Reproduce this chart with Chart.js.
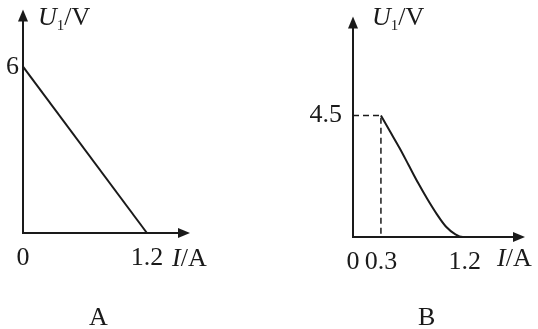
<!DOCTYPE html>
<html>
<head>
<meta charset="utf-8">
<script src="https://cdn.jsdelivr.net/npm/chart.js@4.4.0/dist/chart.umd.min.js"></script>
<style>
  body { margin: 0; background: #fff; }
  #wrap { position: relative; width: 538px; height: 329px; overflow: hidden; }
  canvas { position: absolute; left: 0; top: 0; }
  .lbl { position: absolute; font-family: "Liberation Serif", "Times New Roman", serif; font-size: 26px; color: #1a1a1a; line-height: 26px; white-space: nowrap; }
  .lbl sub { font-size: 15px; vertical-align: -5px; }
</style>
</head>
<body>
<div id="wrap">
  <canvas id="chartA" width="538" height="329"></canvas>
  <canvas id="chartB" width="538" height="329"></canvas>
  <div class="lbl" style="left:38px;top:4px"><i>U</i><sub>1</sub>/V</div>
  <div class="lbl" style="left:372px;top:4px"><i>U</i><sub>1</sub>/V</div>
  <div class="lbl" style="left:172px;top:245px"><i>I</i>/A</div>
  <div class="lbl" style="left:497px;top:245px"><i>I</i>/A</div>
  <div class="lbl" style="left:89px;top:304px">A</div>
  <div class="lbl" style="left:418px;top:304px">B</div>
</div>
<script>
// graph A: straight line
const lineA_I = [0, 1.2];
const lineA_U = [6, 0];
const ticksA_x = [0, 1.2];
const ticksA_y = [6];

// graph B: dashed guide + curve
const guideB_I = [0, 0.3, 0.3];
const guideB_U = [4.5, 4.5, 0];
const curveB_I = [0.3, 0.4, 0.5, 0.6, 0.7, 0.8, 0.9, 1.0, 1.1, 1.18, 1.24];
const curveB_U = [4.5, 3.9, 3.3, 2.65, 2.0, 1.4, 0.85, 0.38, 0.1, 0, 0];
const ticksB_x = [0, 0.3, 1.2];
const ticksB_y = [4.5];

const ink = "#1a1a1a";
const font = { family: "'Liberation Serif', 'Times New Roman', serif", size: 26 };

function pts(xs, ys) {
  return xs.map((x, i) => ({ x: x, y: ys[i] }));
}

// arrow heads at the ends of both axes
const arrows = {
  id: "arrows",
  afterDraw(chart) {
    const { left, right, top, bottom } = chart.chartArea;
    const ctx = chart.ctx;
    ctx.save();
    ctx.fillStyle = ink;
    ctx.beginPath();
    ctx.moveTo(left - 5, top + 2);
    ctx.lineTo(left + 5, top + 2);
    ctx.lineTo(left, top - 10);
    ctx.closePath();
    ctx.fill();
    ctx.beginPath();
    ctx.moveTo(right - 2, bottom - 5);
    ctx.lineTo(right - 2, bottom + 5);
    ctx.lineTo(right + 10, bottom);
    ctx.closePath();
    ctx.fill();
    ctx.restore();
  }
};

function makeChart(id, datasets, o) {
  return new Chart(document.getElementById(id), {
    type: "scatter",
    data: { datasets: datasets },
    options: {
      responsive: false,
      animation: false,
      events: [],
      layout: { padding: { top: o.top, right: o.right, left: 0, bottom: 0 } },
      plugins: { legend: { display: false }, tooltip: { enabled: false } },
      scales: {
        x: {
          type: "linear", min: 0, max: o.xMax,
          grid: { display: false, drawTicks: false },
          border: { display: true, color: ink, width: 2 },
          afterBuildTicks: s => { s.ticks = o.xTicks.map(v => ({ value: v })); },
          afterFit: s => { s.height = o.xHeight; },
          ticks: { color: ink, font: font, padding: 10, maxRotation: 0, autoSkip: false, callback: v => String(v) }
        },
        y: {
          type: "linear", min: 0, max: o.yMax,
          grid: { display: false, drawTicks: false },
          border: { display: true, color: ink, width: 2 },
          afterBuildTicks: s => { s.ticks = o.yTicks.map(v => ({ value: v })); },
          afterFit: s => { s.width = o.yWidth; },
          ticks: { color: ink, font: font, padding: o.yPad, autoSkip: false, callback: v => String(v) }
        }
      }
    },
    plugins: [arrows]
  });
}

makeChart("chartA", [
  { data: pts(lineA_I, lineA_U), showLine: true, borderColor: ink, borderWidth: 2, pointRadius: 0, clip: false }
], { top: 12, right: 358, xMax: 1.52, yMax: 7.7, xTicks: ticksA_x, yTicks: ticksA_y, xHeight: 96, yWidth: 23, yPad: 4 });

makeChart("chartB", [
  { data: pts(guideB_I, guideB_U), showLine: true, borderColor: ink, borderWidth: 1.5, borderDash: [6, 4], pointRadius: 0, clip: false },
  { data: pts(curveB_I, curveB_U), showLine: true, borderColor: ink, borderWidth: 2, pointRadius: 0, tension: 0.4, cubicInterpolationMode: "monotone", clip: false }
], { top: 12, right: 23, xMax: 1.74, yMax: 7.8, xTicks: ticksB_x, yTicks: ticksB_y, xHeight: 92, yWidth: 353, yPad: 11 });
</script>
</body>
</html>
